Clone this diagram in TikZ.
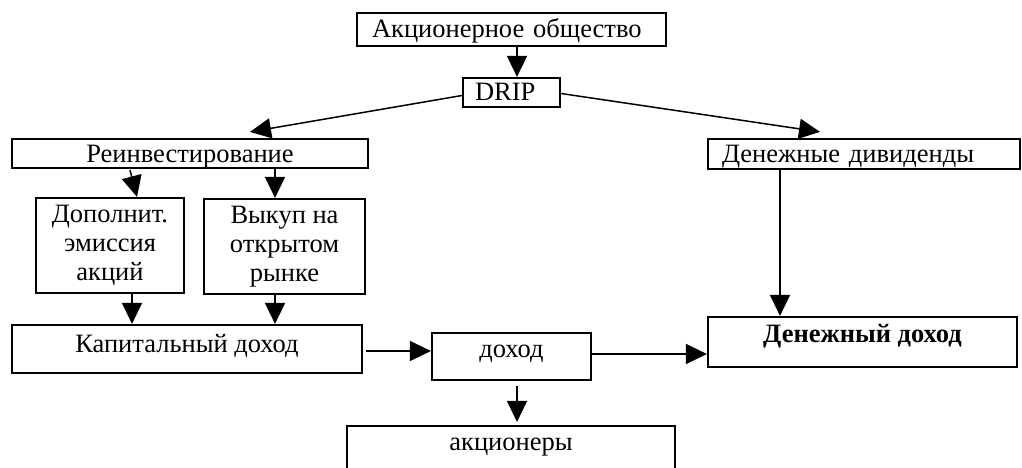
\documentclass[tikz,border=0pt]{standalone}
\usepackage{fontspec}
\setmainfont{Liberation Serif}
\usetikzlibrary{arrows.meta,calc}
\begin{document}
\begin{tikzpicture}[x=1pt,y=-1pt,
  box/.style={draw,line width=2.2pt,inner sep=0pt,font=\fontsize{26.5}{29}\selectfont,align=center},
  arr/.style={line width=1.5pt,-{Triangle[length=21pt,width=20pt]}}]
\useasboundingbox (0,0) rectangle (1022,467);
\clip (0,0) rectangle (1022,467);
\node[box,minimum width=309pt,minimum height=33pt,inner xsep=15pt,text width=279pt,align=left,text height=15pt,text depth=0pt] (ao) at (511.5,29.5) {Акционерное общество};
\node[box,minimum width=97pt,minimum height=29pt,inner xsep=12pt,text width=73pt,align=left,text height=15pt,text depth=0pt] (drip) at (511.5,92.5) {DRIP};
\node[box,minimum width=356pt,minimum height=29pt,text height=17pt,text depth=0pt] (reinv) at (190,153.5) {Реинвестирование};
\node[box,minimum width=312pt,minimum height=30pt,inner xsep=14pt,text width=284pt,align=left,text height=16pt,text depth=0pt] (divid) at (864,154) {Денежные дивиденды};
\node[box,minimum width=148pt,minimum height=95pt] (dop) at (110,245.5) {Дополнит.\\эмиссия\\акций};
\node[box,minimum width=161pt,minimum height=95pt] (vykup) at (284.5,246.5) {Выкуп на\\открытом\\рынке};
\node[box,minimum width=350pt,minimum height=48pt,text height=6pt,text depth=0pt] (kap) at (187,349) {Капитальный доход};
\node[box,minimum width=159pt,minimum height=47pt,text height=1pt,text depth=0pt] (dohod) at (511.5,356.5) {доход};
\node[box,minimum width=309pt,minimum height=50pt,text height=0pt,text depth=0pt,font=\fontsize{26.5}{29}\selectfont\bfseries] (dden) at (862.5,342) {Денежный доход};
\node[box,minimum width=328pt,minimum height=60pt,text height=0pt,text depth=12pt] (akc) at (511,456) {акционеры};

\draw[arr] ([xshift=5.5pt]ao.south) -- ([xshift=5.5pt]drip.north);
\draw[arr] ([yshift=-3pt]drip.west) -- ($(reinv.north)+(60,-6)$);
\draw[arr] ([yshift=-1pt]drip.east) -- ($(divid.north)+(-44,-6)$);
\draw[arr] ($(reinv.south)+(-60,1)$) -- ($(dop.north)+(27,0)$);
\draw[arr] ($(reinv.south)+(85,0)$) -- ($(vykup.north)+(-9.5,0)$);
\draw[arr] ($(dop.south)+(22,0)$) -- ($(kap.north)+(-55,0)$);
\draw[arr] ($(vykup.south)+(-9.5,0)$) -- ($(kap.north)+(88,0)$);
\draw[arr] ($(kap.east)+(3,2)$) -- ($(dohod.west)+(0,-5.5)$);
\draw[arr] ($(dohod.east)+(0,-2.5)$) -- ($(dden.west)+(0,12)$);
\draw[arr] ($(divid.south)+(-84,0)$) -- ($(dden.north)+(-82.5,0)$);
\draw[arr] ($(dohod.south)+(5.5,5)$) -- ($(akc.north)+(6,-3)$);
\end{tikzpicture}
\end{document}
